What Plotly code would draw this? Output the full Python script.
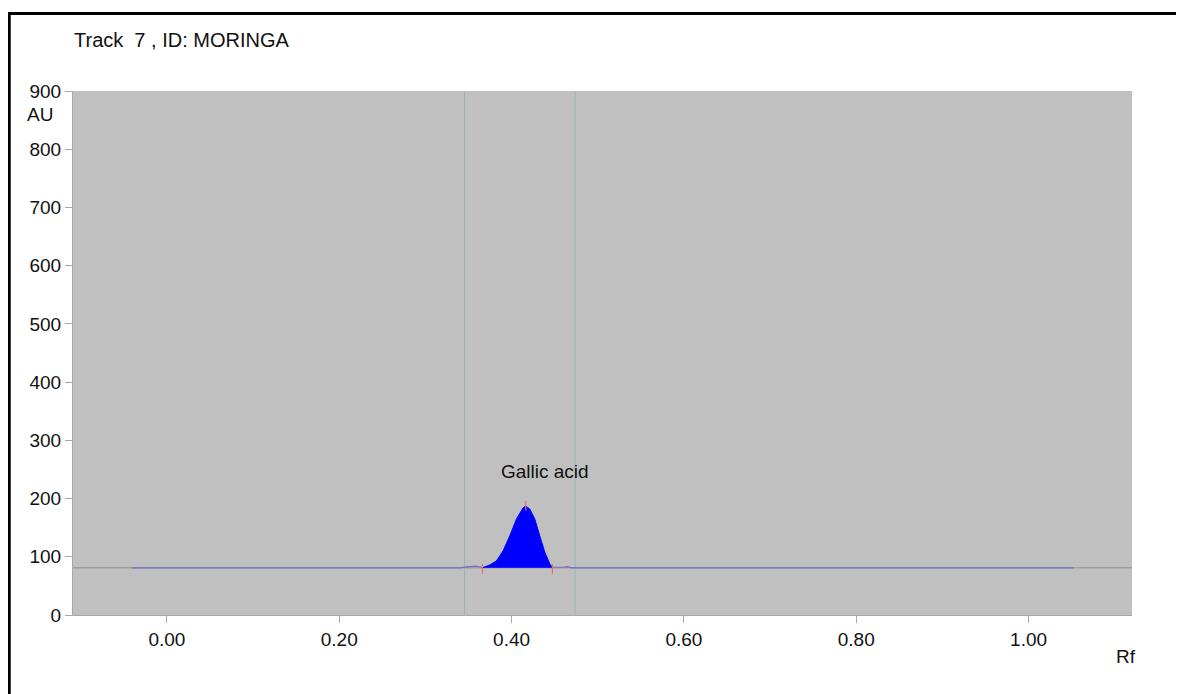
import plotly.graph_objects as go

# ---- data ----
baseline_rf = [-0.041, 0.340, 0.350, 0.358, 0.366, 0.4474, 0.455, 0.460, 0.464, 0.470, 1.052]
baseline_au = [81, 81, 83, 84, 82, 81, 81, 82, 83, 81, 81]

peak_rf = [0.3662, 0.3747, 0.3825, 0.3901, 0.3979, 0.4057, 0.4133, 0.4165,
           0.4211, 0.4269, 0.4327, 0.4385, 0.4443, 0.4474]
peak_au = [81, 86, 93, 110, 136, 165, 184, 187, 182, 165, 136, 108, 88, 81]

marker_rf = [0.3662, 0.4165, 0.4474]
marker_au = [79, 188, 79]

window_rf = [0.3454, 0.4737]
baseline_level = 81

x_ticks = [0.0, 0.2, 0.4, 0.6, 0.8, 1.0]
x_ticktext = ["0.00", "0.20", "0.40", "0.60", "0.80", "1.00"]
y_ticks = [0, 100, 200, 300, 400, 500, 600, 700, 800, 900]

title_text = "Track  7 , ID: MORINGA"
peak_label = "Gallic acid"

FONT = "Liberation Sans, Arial, sans-serif"
TXT = "#111111"

fig = go.Figure()

# baseline trace (thin blue-violet line)
fig.add_trace(go.Scatter(x=baseline_rf, y=baseline_au, mode="lines",
                         line=dict(color="#7070c8", width=1.2),
                         hoverinfo="skip", showlegend=False))
# filled peak
fig.add_trace(go.Scatter(x=peak_rf, y=peak_au, mode="lines", fill="toself",
                         fillcolor="#0000ff", line=dict(color="#0000ff", width=1),
                         hoverinfo="skip", showlegend=False))
# red integration marks
fig.add_trace(go.Scatter(x=marker_rf, y=marker_au, mode="markers",
                         marker=dict(symbol="line-ns-open", size=7, color="#e07070",
                                     line=dict(color="#e07070", width=1.2)),
                         hoverinfo="skip", showlegend=False))

# horizontal gray baseline across plot
fig.add_hline(y=baseline_level, line=dict(color="#8c8c8c", width=1), layer="below")
# vertical window lines
for v in window_rf:
    fig.add_vline(x=v, line=dict(color="#9cb4b4", width=1), layer="below")

# peak label
fig.add_annotation(x=0.4385, y=247, text=peak_label, showarrow=False,
                   font=dict(family=FONT, size=19, color=TXT))

# AU unit label
fig.add_annotation(xref="paper", yref="paper", x=-0.0167, y=0.955, xanchor="right",
                   yanchor="middle", text="AU", showarrow=False,
                   font=dict(family=FONT, size=19, color=TXT))
# Rf label
fig.add_annotation(xref="paper", yref="paper", x=1.006, y=-0.08, xanchor="right",
                   yanchor="middle", text="Rf", showarrow=False,
                   font=dict(family=FONT, size=19, color=TXT))
# title
fig.add_annotation(xref="paper", yref="paper", x=-0.001, y=1.098, xanchor="left",
                   yanchor="middle", text=title_text, showarrow=False,
                   font=dict(family=FONT, size=20, color=TXT))

# black frame (left and top)
fig.add_shape(type="line", xref="paper", yref="paper", x0=-0.0602, x1=-0.0602,
              y0=-0.3, y1=1.149, line=dict(color="black", width=3))
fig.add_shape(type="line", xref="paper", yref="paper", x0=-0.0616, x1=1.2,
              y0=1.148, y1=1.148, line=dict(color="black", width=3))

fig.update_layout(
    width=1184, height=694,
    margin=dict(l=65, r=60, t=83, b=87),
    paper_bgcolor="white",
    plot_bgcolor="#c0c0c0",
    font=dict(family=FONT, size=19, color=TXT),
    xaxis=dict(range=[-0.109, 1.12], tickvals=x_ticks, ticktext=x_ticktext,
               showgrid=False, zeroline=False, showline=True, linecolor="#a8a8a8",
               linewidth=1, ticks="outside", ticklen=7, tickcolor="#a8a8a8",
               tickfont=dict(family=FONT, size=19, color=TXT)),
    yaxis=dict(range=[0, 900], tickvals=y_ticks, showgrid=False, zeroline=False,
               showline=True, linecolor="#a8a8a8", linewidth=1, ticks="outside",
               ticklen=7, tickcolor="#a8a8a8",
               tickfont=dict(family=FONT, size=19, color=TXT)),
)

fig.write_html("out.html")
